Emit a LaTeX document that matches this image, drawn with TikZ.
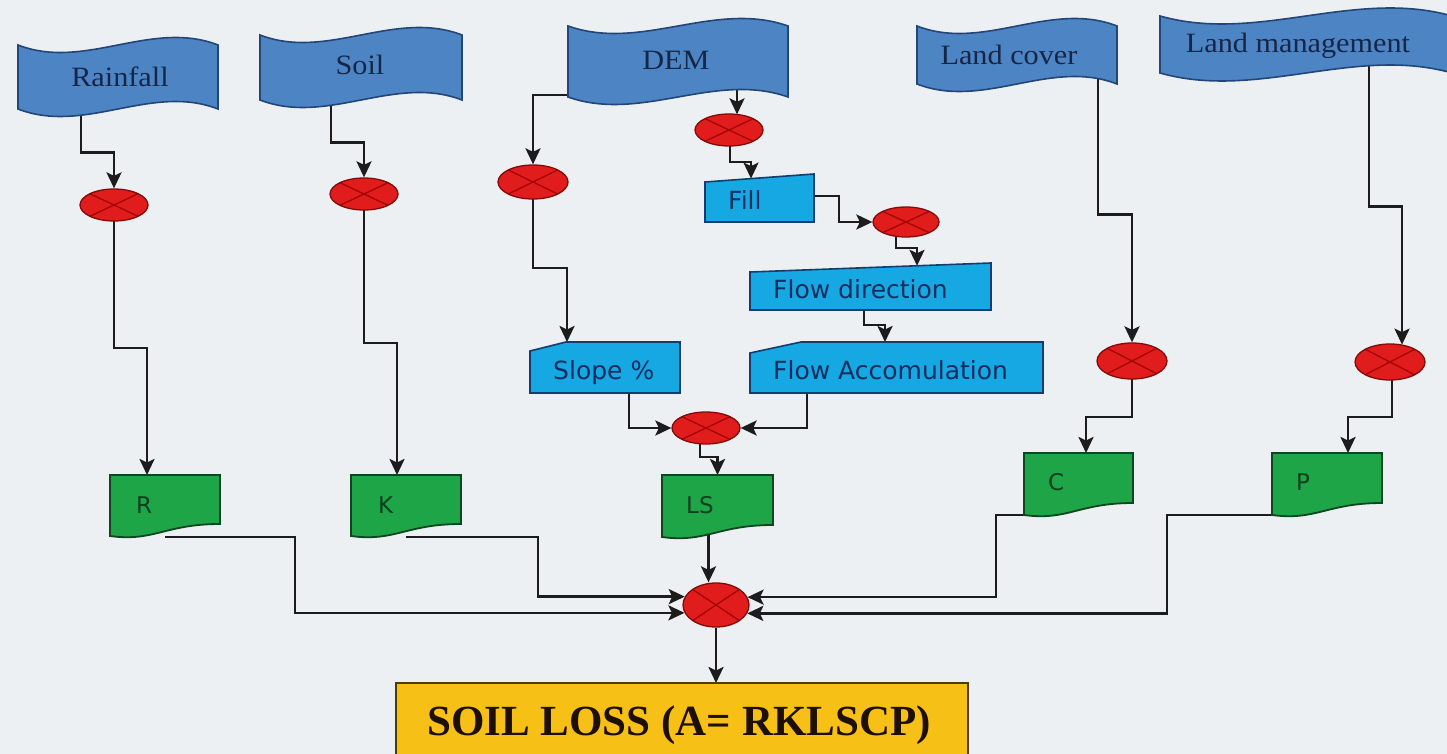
\documentclass[tikz,border=0pt]{standalone}
\usepackage{fontspec}
\setmainfont{Liberation Serif}
\newfontfamily\banfont[FakeStretch=1.08]{Liberation Serif}
\newfontfamily\boxfont{DejaVu Sans}
\usetikzlibrary{arrows.meta,shapes.geometric}
\pgfdeclarelayer{bg}
\pgfdeclarelayer{conn}
\pgfsetlayers{bg,conn,main}

\definecolor{bgc}{RGB}{237,240,242}
\definecolor{banfill}{RGB}{76,132,196}
\definecolor{bandraw}{RGB}{35,70,120}
\definecolor{bantext}{RGB}{22,38,72}
\definecolor{cyfill}{RGB}{22,168,226}
\definecolor{cydraw}{RGB}{20,60,110}
\definecolor{cytext}{RGB}{18,45,95}
\definecolor{grfill}{RGB}{30,165,72}
\definecolor{grdraw}{RGB}{15,70,32}
\definecolor{grtext}{RGB}{12,65,28}
\definecolor{rdfill}{RGB}{224,28,28}
\definecolor{rddraw}{RGB}{130,10,10}
\definecolor{rdx}{RGB}{165,5,5}
\definecolor{ylfill}{RGB}{246,192,22}
\definecolor{yldraw}{RGB}{80,60,10}
\definecolor{yltext}{RGB}{30,15,5}
\definecolor{linec}{RGB}{28,28,28}

\tikzset{
  conn/.style={draw=linec, line width=2.6pt, -{Stealth[length=16pt,width=15pt,inset=3.5pt]}},
  frame/.style={inner sep=0pt, outer sep=0pt},
  banshape/.style={fill=banfill, draw=bandraw, line width=1.6pt},
  docsty/.style={fill=grfill, draw=grdraw, line width=1.8pt},
  cysty/.style={fill=cyfill, draw=cydraw, line width=1.6pt},
  bantxt/.style={inner sep=0pt, anchor=base, text=bantext, font=\banfont\fontsize{28pt}{30pt}\selectfont},
  cytxt/.style={inner sep=0pt, anchor=base west, text=cytext, font=\boxfont\fontsize{25pt}{27pt}\selectfont},
  grtxt/.style={inner sep=0pt, anchor=base west, text=grtext, font=\boxfont\fontsize{23pt}{25pt}\selectfont},
  junction/.style={ellipse, draw=rddraw, line width=1.3pt, fill=rdfill, inner sep=0pt,
    path picture={\draw[rdx, line width=1.3pt]
      (path picture bounding box.north west) -- (path picture bounding box.south east)
      (path picture bounding box.north east) -- (path picture bounding box.south west);}}
}

% banner: name x1 ytop x2 ybot amplitude
\newcommand\flagshape[6]{%
  \path[banshape] (#2,#3) .. controls ({#2+(#4-#2)/3},{#3+3.46*#6}) and ({#2+2*(#4-#2)/3},{#3-3.46*#6}) .. (#4,#3)
    -- (#4,#5) .. controls ({#2+2*(#4-#2)/3},{#5-3.46*#6}) and ({#2+(#4-#2)/3},{#5+3.46*#6}) .. (#2,#5) -- cycle;
  \node[frame, minimum width={#4pt-#2pt}, minimum height={#5pt-#3pt}] (#1) at ({(#2+#4)/2},{(#3+#5)/2}) {};
}
% document: name x1 ytop x2 ybot
\newcommand\docshape[5]{%
  \path[docsty] (#2,#3) -- (#4,#3) -- (#4,{#5-12})
    .. controls ({#2+0.5*(#4-#2)},{#5-12}) and ({#2+0.4*(#4-#2)},{#5+6}) .. (#2,#5) -- cycle;
  \node[frame, minimum width={#4pt-#2pt}, minimum height={#5pt-#3pt}] (#1) at ({(#2+#4)/2},{(#3+#5)/2}) {};
}
% manual input: name x1 yleft xs ytop x2 ybot
\newcommand\inshape[7]{%
  \path[cysty] (#2,#3) -- (#4,#5) -- (#6,#5) -- (#6,#7) -- (#2,#7) -- cycle;
  \node[frame, minimum width={#6pt-#2pt}, minimum height={#7pt-#5pt}] (#1) at ({(#2+#6)/2},{(#5+#7)/2}) {};
}

\begin{document}
\begin{tikzpicture}[x=1pt,y=-1pt]
\useasboundingbox (0,0) rectangle (1447,754);
\begin{pgfonlayer}{bg}
  \fill[bgc] (0,0) rectangle (1447,754);
\end{pgfonlayer}

% ---- input banners
\flagshape{Rain}{18}{45}{218}{109}{7.5}
\flagshape{Soil}{260}{35}{462}{100}{7.5}
\flagshape{DEM}{568}{26}{788}{97}{7.5}
\flagshape{LC}{917}{26}{1117}{84}{7.5}
\flagshape{LM}{1160}{16}{1452}{73}{8}
\node[bantxt] (RainT) at (120,87) {Rainfall};
\node[bantxt] (SoilT) at (360,75) {Soil};
\node[bantxt] (DEMT) at (676,70) {DEM};
\node[bantxt] (LCT) at (1009,65) {Land cover};
\node[bantxt] (LMT) at (1298,53) {Land management};

% ---- processing boxes
\inshape{Fill}{705}{182}{814}{174}{814}{222}
\inshape{FD}{750}{272}{991}{263}{991}{310}
\inshape{Slope}{530}{351}{566}{342}{680}{393}
\inshape{FA}{750}{353}{801}{342}{1043}{393}
\node[cytxt] (FillT) at (728,209) {Fill};
\node[cytxt] (FDT) at (773,298) {Flow direction};
\node[cytxt] (SlopeT) at (553,379) {Slope \%};
\node[cytxt] (FAT) at (773,379) {Flow Accomulation};

% ---- factor documents
\docshape{R}{110}{475}{220}{536}
\docshape{K}{351}{475}{461}{536}
\docshape{LS}{662}{475}{773}{537}
\docshape{C}{1024}{453}{1133}{515}
\docshape{P}{1272}{453}{1382}{515}
\node[grtxt] (RT) at (136,513) {R};
\node[grtxt] (KT) at (378,513) {K};
\node[grtxt] (LST) at (686,513) {LS};
\node[grtxt] (CT) at (1048,490) {C};
\node[grtxt] (PT) at (1296,490) {P};

% ---- junctions
\node[junction, minimum width=68pt, minimum height=32pt] (O1) at (114,205) {};
\node[junction, minimum width=68pt, minimum height=32pt] (O2) at (364,194) {};
\node[junction, minimum width=70pt, minimum height=34pt] (O3) at (533,182) {};
\node[junction, minimum width=68pt, minimum height=32pt] (O4) at (729,130) {};
\node[junction, minimum width=66pt, minimum height=30pt] (O5) at (906,222) {};
\node[junction, minimum width=70pt, minimum height=36pt] (O6) at (1132,361) {};
\node[junction, minimum width=70pt, minimum height=36pt] (O7) at (1390,362) {};
\node[junction, minimum width=68pt, minimum height=32pt] (O8) at (706,428) {};
\node[junction, minimum width=66pt, minimum height=44pt] (O9) at (716,605) {};

% ---- result
\node[frame, draw=yldraw, fill=ylfill, line width=1.5pt, minimum width=572pt, minimum height=90pt, anchor=north west] (SL) at (396,683) {};
\node[inner sep=0pt, anchor=base, text=yltext, font=\bfseries\fontsize{43pt}{45pt}\selectfont] (SLT) at (679,735) {SOIL LOSS (A= RKLSCP)};

% ---- connectors
\begin{pgfonlayer}{conn}
  \coordinate (FillIn) at ([xshift=-8.5pt,yshift=-4.6pt]Fill.north);
  \coordinate (FDIn) at ([xshift=46.5pt,yshift=-2.8pt]FD.north);
  \coordinate (O7in) at ([xshift=12pt,yshift=-1.3pt]O7.north);
  \coordinate (LSout) at ([xshift=-9pt]LS.center);

  \draw[conn] ([xshift=-37pt]Rain.center) |- ([yshift=36pt]O1.north) -- (O1.north);
  \draw[conn] (O1.center) |- ([xshift=-18pt,yshift=127pt]R.north) -- ([xshift=-18pt]R.north);
  \draw[conn] ([xshift=-30pt]Soil.center) |- ([yshift=35pt]O2.north) -- (O2.north);
  \draw[conn] (O2.center) |- ([xshift=-9pt,yshift=132pt]K.north) -- ([xshift=-9pt]K.north);
  \draw[conn] ([yshift=2pt]DEM.south west) -| (O3.north);
  \draw[conn] (O3.center) |- ([xshift=-38pt,yshift=74pt]Slope.north) -- ([xshift=-38pt]Slope.north);
  \draw[conn] ([yshift=9pt]DEM.south east) -| ([xshift=8pt,yshift=-1pt]O4.north);
  \draw[conn] ([xshift=1pt]O4.center) |- ([yshift=16.6pt]FillIn) -- (FillIn);
  \draw[conn] ([yshift=2pt]Fill.east) -- ++(25,0) |- (O5.west);
  \draw[conn] ([xshift=-10pt]O5.center) |- ([yshift=17.8pt]FDIn) -- (FDIn);
  \draw[conn] ([xshift=-6.5pt]FD.center) |- ([xshift=-11.5pt,yshift=17pt]FA.north) -- ([xshift=-11.5pt]FA.north);
  \draw[conn] ([xshift=24pt]Slope.center) |- (O8.west);
  \draw[conn] ([xshift=-89.5pt]FA.center) |- (O8.east);
  \draw[conn] ([xshift=-6pt]O8.center) |- ([yshift=18pt]LS.north) -- (LS.north);
  \draw[conn] (LSout) -- (LSout |- O9.north);
  \draw[conn] ([xshift=81pt]LC.center) |- ([yshift=128pt]O6.north) -- (O6.north);
  \draw[conn] (O6.center) |- ([xshift=7.5pt,yshift=36pt]C.north) -- ([xshift=7.5pt]C.north);
  \draw[conn] ([xshift=63pt]LM.center) |- ([yshift=138pt]O7in) -- (O7in);
  \draw[conn] ([xshift=2pt]O7.center) |- ([xshift=21pt,yshift=36pt]P.north) -- ([xshift=21pt]P.north);
  \draw[conn] ([yshift=-1pt]R.south) -- ++(130,0) |- (O9.194.6);
  \draw[conn] ([yshift=-1pt]K.south) -- ++(132,0) |- (O9.165.4);
  \draw[conn] ([xshift=-40pt]C.south) -- ++(-42.5,0) |- (O9.14.6);
  \draw[conn] ([xshift=-40pt]P.south) -- ++(-120,0) |- (O9.345.4);
  \draw[conn] (O9.south) -- (O9.south |- SL.north);
\end{pgfonlayer}
\end{tikzpicture}
\end{document}
